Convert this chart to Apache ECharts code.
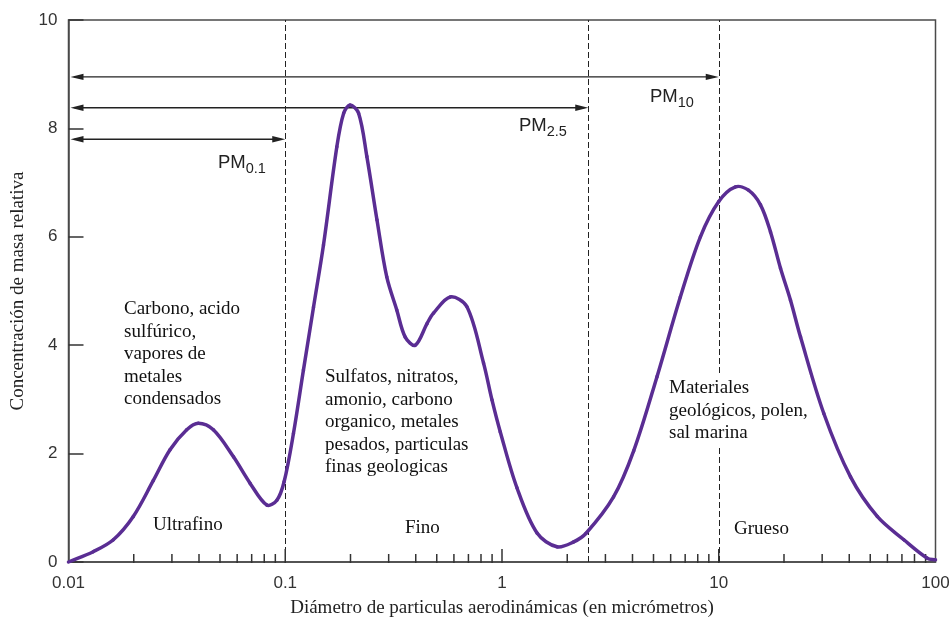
<!DOCTYPE html>
<html>
<head>
<meta charset="utf-8">
<script src="https://cdn.jsdelivr.net/npm/echarts@6/dist/echarts.min.js"></script>
<style>html,body{margin:0;padding:0;background:#fff}#c{width:952px;height:619px}</style>
</head>
<body>
<div id="c"></div>
<script>
// Particle diameter (µm) and relative mass concentration
const diameters = [0.01, 0.013, 0.0161, 0.0199, 0.0246, 0.0294, 0.0351, 0.0397, 0.0466, 0.0577, 0.0689, 0.0822, 0.0915, 0.0988, 0.1091, 0.1213, 0.135, 0.1501, 0.173, 0.186, 0.199, 0.218, 0.238, 0.265, 0.294, 0.327, 0.3577, 0.398, 0.451, 0.483, 0.577, 0.689, 0.822, 0.899, 0.982, 1.172, 1.451, 1.795, 2.141, 2.443, 3.27, 4.05, 5.19, 6.65, 8.23, 10.0, 11.94, 13.71, 15.58, 17.33, 19.27, 21.43, 23.84, 30.53, 40.55, 53.87, 71.45, 91.6, 100];
const concentration = [0, 0.19, 0.41, 0.84, 1.50, 2.07, 2.44, 2.56, 2.44, 1.94, 1.45, 1.05, 1.14, 1.48, 2.37, 3.54, 4.70, 5.85, 7.66, 8.28, 8.43, 8.28, 7.48, 6.31, 5.26, 4.65, 4.15, 4.0, 4.4, 4.59, 4.89, 4.71, 3.67, 2.99, 2.40, 1.37, 0.535, 0.28, 0.37, 0.53, 1.2, 2.05, 3.42, 4.89, 6.0, 6.65, 6.92, 6.86, 6.59, 6.09, 5.42, 4.83, 4.15, 2.74, 1.57, 0.84, 0.41, 0.07, 0.04];

// Size cut-offs (dashed lines) and PM ranges (arrows)
const cutoffs = [0.1, 2.5, 10];
const pmNames = ['10', '2.5', '0.1'];
const pmUpper = [10, 2.5, 0.1];
const pmLevel = [8.95, 8.38, 7.80];

// Axis ticks
const xTickLabels = ['0.01', '0.1', '1', '10', '100'];
const yTicks = [0, 2, 4, 6, 8, 10];
const minorTicks = [0.02,0.03,0.04,0.05,0.06,0.07,0.08,0.09, 0.2,0.3,0.4,0.5,0.6,0.7,0.8,0.9, 2,3,4,5,6,7,8,9, 20,30,40,50,60,70,80,90];
const majorInnerTicks = [0.1, 1, 10];

const SERIF = '"Liberation Serif", "Times New Roman", serif';
const SANS = '"Liberation Sans", Arial, sans-serif';
const AXIS = '#4a4a4a';
const CURVE = '#5A2D93';

const chart = echarts.init(document.getElementById('c'));

const curveData = diameters.map((d, i) => [d, concentration[i]]);
const pmRich = { a: { fontFamily: SANS, fontSize: 18.5, fill: '#222' }, b: { fontFamily: SANS, fontSize: 14.5, fill: '#222', padding: [12, 0, 0, 0] } };

// Smooth curve: one cubic segment per data point, chord-length Catmull-Rom through the axis-mapped points
function renderCurveSegment(params, api) {
  const i = params.dataIndex;
  const n = curveData.length;
  if (i >= n - 1) return null;
  const P = k => api.coord(curveData[Math.max(0, Math.min(n - 1, k))]);
  const p0 = P(i - 1), p1 = P(i), p2 = P(i + 1), p3 = P(i + 2);
  const d = (a, b) => Math.hypot(b[0] - a[0], b[1] - a[1]);
  const d01 = d(p0, p1), d12 = d(p1, p2), d23 = d(p2, p3);
  const s1 = d12 / 3 / ((d01 + d12) || 1);
  const s2 = d12 / 3 / ((d12 + d23) || 1);
  const c1 = [p1[0] + (p2[0] - p0[0]) * s1, p1[1] + (p2[1] - p0[1]) * s1];
  const c2 = [p2[0] - (p3[0] - p1[0]) * s2, p2[1] - (p3[1] - p1[1]) * s2];
  return {
    type: 'bezierCurve',
    shape: { x1: p1[0], y1: p1[1], x2: p2[0], y2: p2[1], cpx1: c1[0], cpy1: c1[1], cpx2: c2[0], cpy2: c2[1] },
    style: { stroke: CURVE, lineWidth: 3.5, fill: null, lineCap: 'round' }
  };
}

const option = {
  animation: false,
  grid: { left: 68.5, right: 16.5, top: 20, bottom: 57, containLabel: false, outerBoundsMode: 'none',
    show: true, borderColor: AXIS, borderWidth: 1.5 },
  xAxis: {
    type: 'log', logBase: 10, min: 0.01, max: 100,
    name: 'Diámetro de particulas aerodinámicas (en micrómetros)',
    nameLocation: 'middle', nameGap: 37,
    nameTextStyle: { fontFamily: SERIF, fontSize: 19, color: '#222' },
    axisLine: { show: true, lineStyle: { color: AXIS, width: 1.5 } },
    axisTick: { show: false },
    splitLine: { show: false },
    axisLabel: {
      fontFamily: SANS, fontSize: 17, color: '#333', margin: 13,
      formatter: v => { const s = xTickLabels.find(t => Math.abs(parseFloat(t) - v) < 1e-9 * Math.max(1, v)); return s || ''; }
    }
  },
  yAxis: {
    type: 'value', min: 0, max: 10, interval: 2,
    name: 'Concentración de masa relativa',
    nameLocation: 'middle', nameGap: 41, nameRotate: 90,
    nameTextStyle: { fontFamily: SERIF, fontSize: 19, color: '#222' },
    axisLine: { show: true, lineStyle: { color: AXIS, width: 1.5 } },
    axisTick: { show: true, inside: true, length: 15, lineStyle: { color: '#333', width: 1.5 } },
    splitLine: { show: false },
    axisLabel: { fontFamily: SANS, fontSize: 17, color: '#333', margin: 11,
      formatter: v => yTicks.indexOf(v) >= 0 ? String(v) : '' }
  },
  series: [
    {
      type: 'custom', name: 'minorTicks', silent: true, z: 3,
      data: minorTicks.map(v => [v, 0, 8]).concat(majorInnerTicks.map(v => [v, 0, 13])),
      renderItem: (params, api) => {
        const p = api.coord([api.value(0), api.value(1)]);
        const len = api.value(2);
        return { type: 'line', shape: { x1: p[0], y1: p[1] + 1, x2: p[0], y2: p[1] - len },
          style: { stroke: '#333', lineWidth: 1.5 } };
      }
    },
    {
      type: 'custom', name: 'pmArrows', silent: true, z: 3,
      data: pmUpper.map((u, i) => [u, pmLevel[i]]),
      renderItem: (params, api) => {
        const y = api.value(1);
        const a = api.coord([0.01, y]);
        const b = api.coord([api.value(0), y]);
        const x0 = a[0] + 2, x1 = b[0];
        const L = 13, W = 3.2;
        return { type: 'group', children: [
          { type: 'line', shape: { x1: x0 + 4, y1: a[1], x2: x1 - 4, y2: b[1] }, style: { stroke: '#222', lineWidth: 1.4 } },
          { type: 'polygon', shape: { points: [[x0, a[1]], [x0 + L, a[1] - W], [x0 + L, a[1] + W]] }, style: { fill: '#222' } },
          { type: 'polygon', shape: { points: [[x1, b[1]], [x1 - L, b[1] - W], [x1 - L, b[1] + W]] }, style: { fill: '#222' } }
        ] };
      }
    },
    {
      type: 'line', name: 'cutoffs', data: [], symbol: 'none', z: 1,
      markLine: {
        silent: true, symbol: 'none', label: { show: false }, z: 1,
        lineStyle: { color: '#222', width: 1, type: [6, 3] },
        data: cutoffs.map(c => ({ xAxis: c }))
      }
    },
    {
      type: 'custom', name: 'Concentración', data: curveData, z: 5, silent: true,
      renderItem: renderCurveSegment
    }
  ],
  graphic: [
    { type: 'text', left: 650, top: 87, z: 100, style: { text: '{a|PM}{b|' + pmNames[0] + '}', rich: pmRich } },
    { type: 'text', left: 519, top: 116, z: 100, style: { text: '{a|PM}{b|' + pmNames[1] + '}', rich: pmRich } },
    { type: 'text', left: 218, top: 153, z: 100, style: { text: '{a|PM}{b|' + pmNames[2] + '}', rich: pmRich } },
    { type: 'text', left: 124, top: 298, z: 100, style: { text: 'Carbono, acido\nsulfúrico,\nvapores de\nmetales\ncondensados', fontFamily: SERIF, fontSize: 19, lineHeight: 22.5, fill: '#111' } },
    { type: 'text', left: 325, top: 366, z: 100, style: { text: 'Sulfatos, nitratos,\namonio, carbono\norganico, metales\npesados, particulas\nfinas geologicas', fontFamily: SERIF, fontSize: 19, lineHeight: 22.5, fill: '#111' } },
    { type: 'text', left: 667, top: 375, z: 100, style: { text: 'Materiales\ngeológicos, polen,\nsal marina', fontFamily: SERIF, fontSize: 19, lineHeight: 22.5, fill: '#111', backgroundColor: '#fff', padding: [2, 2, 2, 2] } },
    { type: 'text', left: 153, top: 516, z: 100, style: { text: 'Ultrafino', fontFamily: SERIF, fontSize: 19, fill: '#111' } },
    { type: 'text', left: 405, top: 519, z: 100, style: { text: 'Fino', fontFamily: SERIF, fontSize: 19, fill: '#111' } },
    { type: 'text', left: 734, top: 520, z: 100, style: { text: 'Grueso', fontFamily: SERIF, fontSize: 19, fill: '#111' } }
  ]
};
chart.setOption(option);
</script>
</body>
</html>
